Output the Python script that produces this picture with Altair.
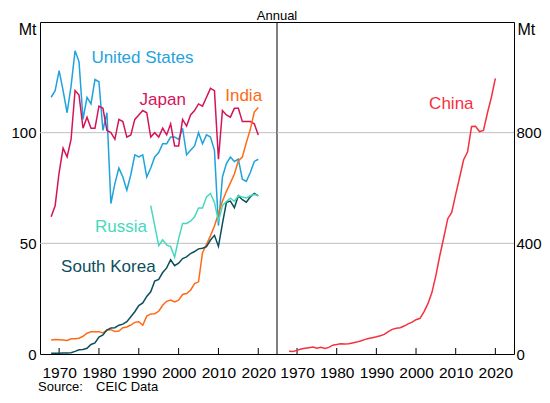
import altair as alt
import pandas as pd

FONT = "Liberation Sans"

years = list(range(1967, 2020))
united_states = [116, 119, 128, 119, 109, 121, 137, 132, 106, 116, 113, 124, 123, 101, 109, 68, 77, 84, 80, 74,
                 81, 90, 89, 90, 80, 84, 89, 91, 95, 95, 98, 98, 97, 102, 90, 92, 94, 100, 95, 99,
                 98, 92, 58, 80, 86, 89, 87, 88, 79, 78, 82, 87, 88]
japan = [62, 67, 82, 93, 89, 97, 119, 117, 102, 107, 102, 102, 112, 111, 101, 100, 97, 106, 105, 98,
         99, 106, 108, 110, 109, 98, 100, 98, 102, 99, 104, 94, 94, 106, 103, 108, 110, 113, 112, 116,
         120, 119, 88, 110, 108, 107, 111, 111, 105, 105, 105, 104, 99]
india = [6.3, 6.5, 6.4, 6.3, 6.1, 6.9, 6.9, 7.1, 8.0, 9.4, 10.0, 10.1, 10.1, 9.5, 10.8, 11.0, 10.2, 10.4, 11.9, 12.2,
         13.1, 14.3, 14.6, 13.0, 17.1, 18.1, 18.2, 19.3, 22.0, 23.8, 24.4, 23.5, 24.3, 26.9, 27.3, 28.8, 31.8, 32.6,
         45.8, 49.5, 53.5, 57.8, 63.5, 69.0, 73.5, 77.3, 81.3, 87.3, 89.0, 95.5, 101.5, 109.3, 111.4]
south_korea = [0.3, 0.3, 0.3, 0.5, 0.5, 0.6, 1.2, 1.9, 2.0, 2.6, 4.3, 5.0, 7.6, 8.6, 10.8, 11.8, 11.9, 13.0, 13.5, 14.6,
               16.8, 19.1, 21.9, 23.1, 26.0, 28.1, 33.0, 33.7, 36.8, 38.9, 42.6, 39.9, 41.0, 43.1, 43.9, 45.4, 46.3,
               47.5, 47.8, 48.5, 51.5, 53.6, 48.6, 58.9, 68.5, 69.1, 66.1, 71.5, 69.7, 68.6, 71.0, 72.5, 71.4]
russia_years = list(range(1992, 2020))
russia = [67, 58, 49, 51.6, 49.3, 48.5, 43.8, 52, 59, 59, 60, 62, 66, 66, 71, 72.5, 68.5, 60, 67, 68.9,
          70.4, 69, 71.5, 70.9, 70.5, 71.5, 72, 71.6]
china = [10, 9, 13, 18, 21, 23, 25, 21, 24, 20, 24, 32, 34, 37, 36, 37, 40, 43, 47, 52,
         56, 59, 62, 66, 71, 81, 89, 93, 95, 101, 109, 115, 124, 129, 152, 182, 222, 283, 356, 421,
         489, 512, 577, 639, 702, 731, 822, 823, 804, 808, 871, 928, 996]

all_countries = ["United States", "Japan", "India", "Russia", "South Korea", "China"]
country_colors = ["#1FA3DC", "#D4145A", "#FF6A16", "#45D8BE", "#0B4F5C", "#F5303F"]

label_text = ["United States", "Japan", "India", "Russia", "South Korea"]
label_x = [1978.1, 1990.2, 2011.7, 1979.0, 1970.5]
label_y = [131.5, 112.3, 114.3, 55.2, 37.2]
china_label_x = [2003.3]
china_label_y = [885]

left_ticks = [0, 50, 100]
right_ticks = [0, 400, 800]
left_grid = [50, 100]
right_grid = [400, 800]
x_ticks = [1970, 1980, 1990, 2000, 2010, 2020]
title_text = "Annual"
source_label = "Source:"
source_text = "CEIC Data"

W_P = 237          # one panel
W = 474            # both panels
H = 332
x_domain = [1965.2, 2024.7]

# annual data plotted at year end
rows = []
for name, vals in [("United States", united_states), ("Japan", japan), ("India", india),
                   ("South Korea", south_korea)]:
    for y, v in zip(years, vals):
        rows.append({"country": name, "year": y, "pos": y + 1, "value": v})
for y, v in zip(russia_years, russia):
    rows.append({"country": "Russia", "year": y, "pos": y + 1, "value": v})
left_df = pd.DataFrame(rows)
china_df = pd.DataFrame({"country": "China", "year": years, "pos": [y + 1 for y in years], "value": china})

left_labels = pd.DataFrame({"country": label_text, "pos": label_x, "value": label_y})
china_labels = pd.DataFrame({"country": ["China"], "pos": china_label_x, "value": china_label_y})

color_scale = alt.Scale(domain=all_countries, range=country_colors)


def xenc(rng):
    return alt.X("pos:Q", scale=alt.Scale(domain=x_domain, range=rng, nice=False, zero=False),
                 axis=alt.Axis(values=x_ticks, format="d", title=None, grid=False, domain=False,
                               orient="bottom", ticks=False, labelPadding=11, labelFontSize=15.5,
                               labelFont=FONT, labelColor="black", labelFlush=False))


def yenc(domain, values, orient):
    return alt.Y("value:Q", scale=alt.Scale(domain=domain, nice=False),
                 axis=alt.Axis(values=values, orient=orient, title="Mt", titleAngle=0,
                               titleAlign="right" if orient == "left" else "left",
                               titleBaseline="alphabetic",
                               titleX=-4 if orient == "left" else 3, titleY=12,
                               titleFontSize=16, titleFont=FONT, titleFontWeight="normal",
                               titleColor="black", grid=False, domain=False, ticks=False,
                               labelPadding=4 if orient == "left" else 2, labelFontSize=15,
                               labelFont=FONT, labelColor="black"))


def panel(df, labels, grid_vals, ydomain, yvals, orient, rng, x0, x1, extra=None):
    lines = alt.Chart(df).mark_line(strokeWidth=1.5).encode(
        x=xenc(rng), y=yenc(ydomain, yvals, orient),
        color=alt.Color("country:N", scale=color_scale, legend=None),
        detail="country:N")
    grid = alt.Chart(pd.DataFrame({"value": grid_vals})).mark_rule(
        color="#BFBFBF", strokeWidth=1).encode(y=alt.Y("value:Q"), x=alt.value(x0), x2=alt.value(x1))
    tick = alt.Chart(pd.DataFrame({"pos": x_ticks})).mark_rule(
        color="black", strokeWidth=1).encode(x=alt.X("pos:Q"), y=alt.value(H - 6), y2=alt.value(H))
    text = alt.Chart(labels).mark_text(align="left", baseline="alphabetic", fontSize=17, font=FONT).encode(
        x="pos:Q", y="value:Q", text="country:N",
        color=alt.Color("country:N", scale=color_scale, legend=None))
    layers = [grid, tick, lines, text]
    if extra:
        layers += extra
    return alt.layer(*layers)


divider = alt.Chart(pd.DataFrame({"t": [0]})).mark_rule(color="black", strokeWidth=1).encode(
    x=alt.value(W_P), y=alt.value(0), y2=alt.value(H))
title_mark = alt.Chart(pd.DataFrame({"t": [title_text]})).mark_text(
    align="center", baseline="alphabetic", fontSize=13, font=FONT, color="black").encode(
    x=alt.value(W_P), y=alt.value(-2), text="t:N")
source_mark1 = alt.Chart(pd.DataFrame({"t": [source_label]})).mark_text(
    align="left", baseline="alphabetic", fontSize=13, font=FONT, color="black").encode(
    x=alt.value(-2), y=alt.value(369), text="t:N")
source_mark2 = alt.Chart(pd.DataFrame({"t": [source_text]})).mark_text(
    align="left", baseline="alphabetic", fontSize=13, font=FONT, color="black").encode(
    x=alt.value(56), y=alt.value(369), text="t:N")

left = panel(left_df, left_labels, left_grid, [0, 150], left_ticks, "left", [0, W_P], 0, W_P,
             extra=[divider, title_mark, source_mark1, source_mark2])
right = panel(china_df, china_labels, right_grid, [0, 1200], right_ticks, "right", [W_P + 1, W], W_P, W)

chart = alt.layer(left, right).resolve_scale(x="independent", y="independent").configure_view(
    stroke="black", strokeWidth=1).properties(
    width=W, height=H,
    autosize=alt.AutoSizeParams(type="none"),
    padding={"left": 32, "top": 14, "right": 28, "bottom": 41},
    background="white")

chart.save("out.html", embed_options={"renderer": "svg", "actions": False})
